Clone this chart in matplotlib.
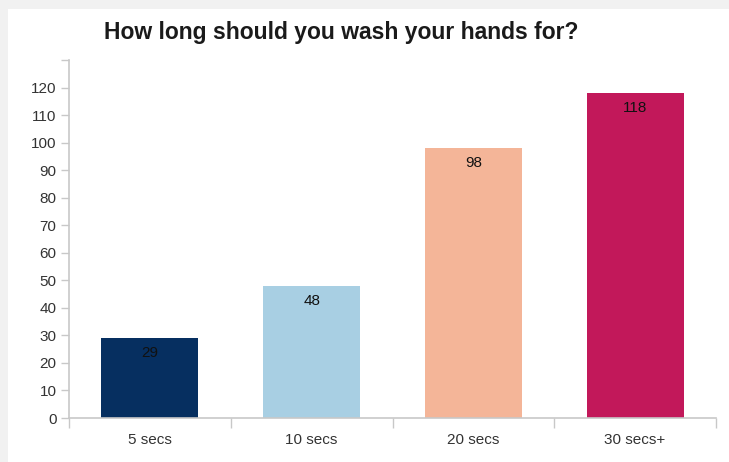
import matplotlib.pyplot as plt
from matplotlib.patches import Rectangle

CATEGORIES = ["5 secs", "10 secs", "20 secs", "30 secs+"]
VALUES = [29, 48, 98, 118]
BAR_COLORS = ["#062f60", "#a8cfe3", "#f4b598", "#c2185a"]
Y_TICKS = list(range(0, 140, 10))
Y_LABELS = [str(t) if t <= 120 else "" for t in Y_TICKS]

PANEL = "#ffffff"
FRAME = "#f1f1f1"
AXIS = "#c8c8c8"
TEXT = "#333333"

plt.rcParams.update({
    "font.family": ["Liberation Sans", "DejaVu Sans"],
    "font.size": 11,
})

W, H = 729, 462
fig = plt.figure(figsize=(W / 100, H / 100), dpi=100, facecolor=FRAME)
fig.patches.append(Rectangle((8 / W, 0), 1, (H - 9) / H, transform=fig.transFigure,
                             facecolor=PANEL, edgecolor="none", zorder=-10))

ax = fig.add_axes([69 / W, (H - 418) / H, (716 - 69) / W, (418 - 60) / H])
ax.set_facecolor("none")

x = list(range(len(CATEGORIES)))
ax.bar(x, VALUES, width=0.6, color=BAR_COLORS, edgecolor="none", zorder=2)
for xi, v in zip(x, VALUES):
    ax.annotate(str(v), xy=(xi, v), xytext=(0, -11), textcoords="offset points",
                ha="center", va="center", fontsize=11, color="#111111", zorder=3)

ax.set_xlim(-0.5, len(CATEGORIES) - 0.5)
ax.set_ylim(0, 130)

for side in ("top", "right"):
    ax.spines[side].set_visible(False)
for side in ("left", "bottom"):
    ax.spines[side].set_color(AXIS)
    ax.spines[side].set_linewidth(1.2)

ax.set_yticks(Y_TICKS)
ax.set_yticklabels(Y_LABELS)
ax.tick_params(axis="y", length=6, width=1, color=AXIS, labelcolor=TEXT,
               labelsize=11, pad=3)

# category boundaries carry the ticks, labels sit at the centres
bounds = [i - 0.5 for i in range(len(CATEGORIES) + 1)]
ax.set_xticks(bounds)
ax.set_xticklabels([""] * len(bounds))
ax.set_xticks(x, minor=True)
ax.set_xticklabels(CATEGORIES, minor=True)
ax.tick_params(axis="x", which="major", length=7, width=1, color=AXIS)
ax.tick_params(axis="x", which="minor", length=0, labelcolor=TEXT,
               labelsize=11, pad=11)

fig.text(341 / W, 1 - 32 / H, "How long should you wash your hands for?",
         ha="center", va="center", fontsize=16.5, fontweight="bold", color="#1a1a1a")

fig.savefig("out.png", dpi=100, facecolor=FRAME)
